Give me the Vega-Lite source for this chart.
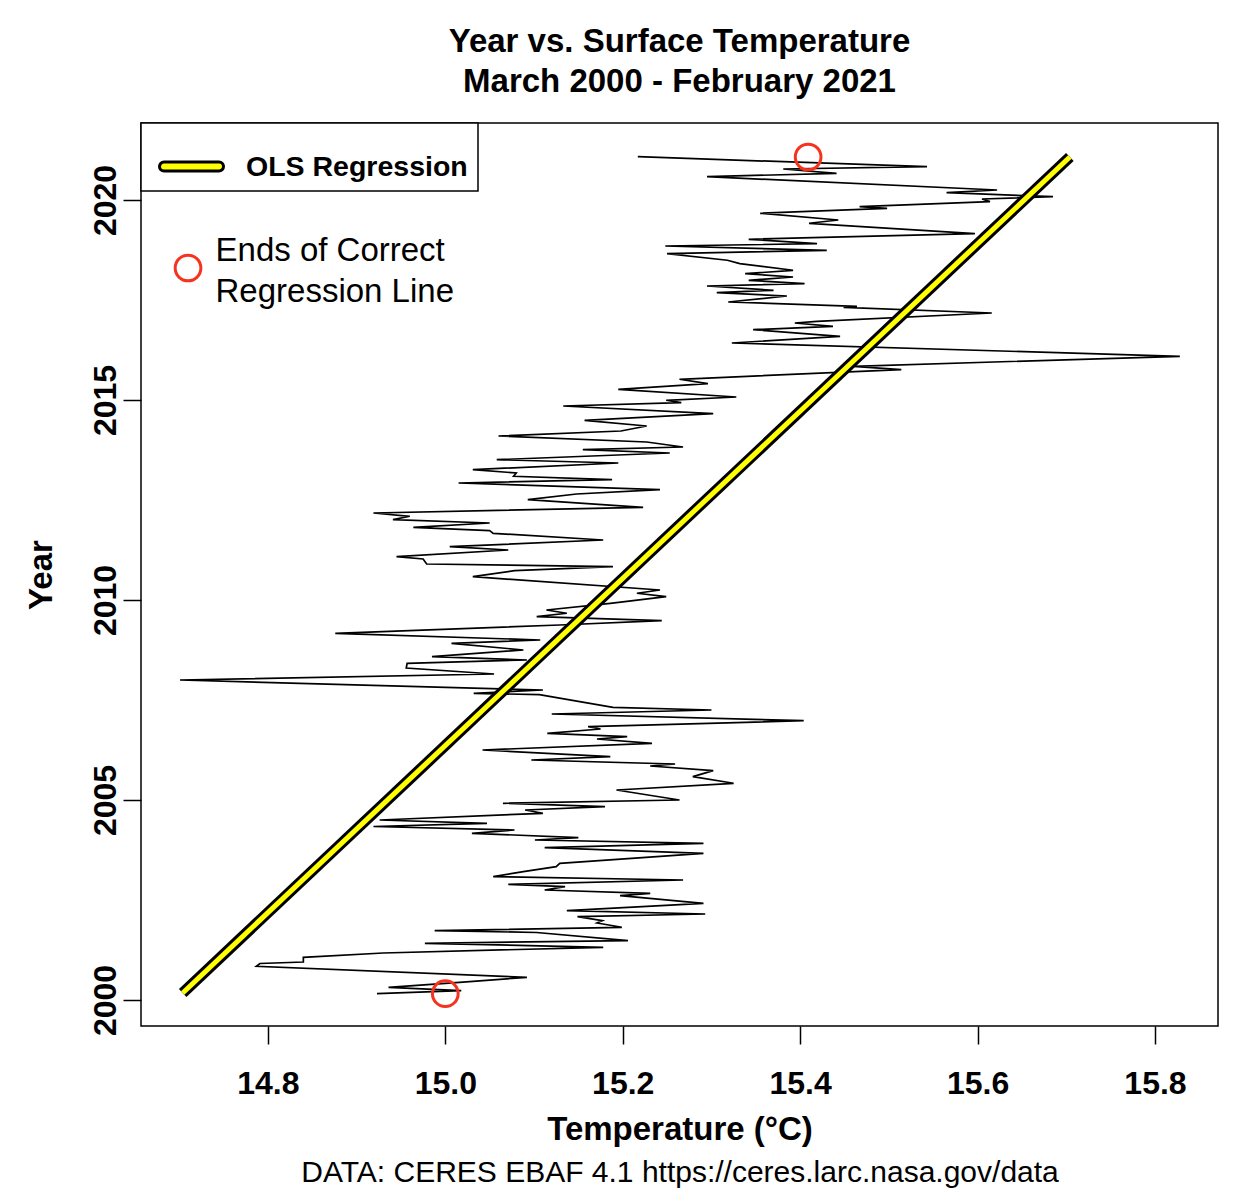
{
"$schema":"https://vega.github.io/schema/vega-lite/v6.json",
"width":1077,"height":903,
"autosize":{"type":"none"},
"padding":{"left":141,"top":123,"right":18,"bottom":169},
"background":"white",
"title":{"text":["Year vs. Surface Temperature","March 2000 - February 2021"],"font":"Liberation Sans","fontSize":33,"fontWeight":"bold","lineHeight":40,"anchor":"middle","baseline":"alphabetic","offset":-3,"color":"black"},
"config":{
 "view":{"stroke":"black","strokeWidth":1.5},
 "font":"Liberation Sans",
 "axis":{"grid":false,"domain":false,"tickColor":"black","tickWidth":1.5,"tickSize":18,"labelColor":"black","labelFont":"Liberation Sans","labelFontSize":32,"labelFontWeight":"bold","titleColor":"black","titleFont":"Liberation Sans","titleFontSize":33,"titleFontWeight":"bold"}
},
"datasets":{
 "series":[
{"year":2000.158,"temp":14.923},{"year":2000.233,"temp":15.018},{"year":2000.318,"temp":14.936},{"year":2000.443,"temp":15.016},{"year":2000.568,"temp":15.092},{"year":2000.843,"temp":14.787},{"year":2000.913,"temp":14.791},{"year":2000.95,"temp":14.84},{"year":2001.068,"temp":14.84},{"year":2001.175,"temp":14.93},{"year":2001.318,"temp":15.178},{"year":2001.418,"temp":14.977},{"year":2001.483,"temp":15.206},{"year":2001.688,"temp":15.103},{"year":2001.733,"temp":14.988},{"year":2001.818,"temp":15.199},{"year":2001.925,"temp":15.171},{"year":2001.983,"temp":15.177},{"year":2002.083,"temp":15.149},{"year":2002.15,"temp":15.293},{"year":2002.233,"temp":15.137},{"year":2002.415,"temp":15.291},{"year":2002.608,"temp":15.197},{"year":2002.668,"temp":15.231},{"year":2002.75,"temp":15.112},{"year":2002.833,"temp":15.135},{"year":2002.893,"temp":15.071},{"year":2003.0,"temp":15.268},{"year":2003.083,"temp":15.054},{"year":2003.208,"temp":15.088},{"year":2003.333,"temp":15.125},{"year":2003.418,"temp":15.129},{"year":2003.668,"temp":15.291},{"year":2003.808,"temp":15.112},{"year":2003.918,"temp":15.291},{"year":2004.0,"temp":15.101},{"year":2004.058,"temp":15.15},{"year":2004.168,"temp":15.03},{"year":2004.25,"temp":15.078},{"year":2004.338,"temp":14.919},{"year":2004.418,"temp":15.047},{"year":2004.5,"temp":14.926},{"year":2004.668,"temp":15.11},{"year":2004.75,"temp":15.09},{"year":2004.833,"temp":15.18},{"year":2004.918,"temp":15.065},{"year":2005.0,"temp":15.264},{"year":2005.25,"temp":15.193},{"year":2005.418,"temp":15.325},{"year":2005.583,"temp":15.279},{"year":2005.733,"temp":15.302},{"year":2005.85,"temp":15.231},{"year":2005.9,"temp":15.259},{"year":2006.0,"temp":15.097},{"year":2006.083,"temp":15.186},{"year":2006.25,"temp":15.042},{"year":2006.418,"temp":15.233},{"year":2006.525,"temp":15.171},{"year":2006.583,"temp":15.205},{"year":2006.668,"temp":15.115},{"year":2006.775,"temp":15.175},{"year":2006.833,"temp":15.161},{"year":2006.983,"temp":15.404},{"year":2007.15,"temp":15.12},{"year":2007.25,"temp":15.3},{"year":2007.318,"temp":15.189},{"year":2007.633,"temp":15.106},{"year":2007.668,"temp":15.032},{"year":2007.75,"temp":15.11},{"year":2008.0,"temp":14.701},{"year":2008.15,"temp":15.055},{"year":2008.3,"temp":14.956},{"year":2008.418,"temp":14.957},{"year":2008.5,"temp":15.092},{"year":2008.583,"temp":14.985},{"year":2008.75,"temp":15.088},{"year":2008.918,"temp":15.007},{"year":2009.0,"temp":15.107},{"year":2009.168,"temp":14.876},{"year":2009.375,"temp":15.129},{"year":2009.483,"temp":15.244},{"year":2009.583,"temp":15.103},{"year":2009.668,"temp":15.137},{"year":2009.75,"temp":15.114},{"year":2009.918,"temp":15.186},{"year":2010.083,"temp":15.249},{"year":2010.168,"temp":15.216},{"year":2010.25,"temp":15.242},{"year":2010.583,"temp":15.031},{"year":2010.733,"temp":15.078},{"year":2010.833,"temp":15.189},{"year":2010.9,"temp":14.979},{"year":2011.025,"temp":14.975},{"year":2011.083,"temp":14.945},{"year":2011.25,"temp":15.071},{"year":2011.333,"temp":15.005},{"year":2011.5,"temp":15.178},{"year":2011.667,"temp":15.054},{"year":2011.733,"temp":15.05},{"year":2011.818,"temp":14.964},{"year":2011.925,"temp":15.05},{"year":2012.008,"temp":14.941},{"year":2012.093,"temp":14.96},{"year":2012.175,"temp":14.919},{"year":2012.318,"temp":15.223},{"year":2012.508,"temp":15.093},{"year":2012.65,"temp":15.148},{"year":2012.758,"temp":15.242},{"year":2012.925,"temp":15.015},{"year":2013.008,"temp":15.188},{"year":2013.093,"temp":15.077},{"year":2013.175,"temp":15.08},{"year":2013.258,"temp":15.031},{"year":2013.425,"temp":15.195},{"year":2013.508,"temp":15.058},{"year":2013.675,"temp":15.253},{"year":2013.758,"temp":15.155},{"year":2013.825,"temp":15.268},{"year":2013.95,"temp":15.227},{"year":2014.1,"temp":15.06},{"year":2014.225,"temp":15.198},{"year":2014.35,"temp":15.227},{"year":2014.493,"temp":15.157},{"year":2014.658,"temp":15.302},{"year":2014.85,"temp":15.133},{"year":2014.933,"temp":15.266},{"year":2014.993,"temp":15.249},{"year":2015.075,"temp":15.328},{"year":2015.268,"temp":15.195},{"year":2015.408,"temp":15.296},{"year":2015.518,"temp":15.264},{"year":2015.758,"temp":15.514},{"year":2015.843,"temp":15.46},{"year":2016.093,"temp":15.828},{"year":2016.425,"temp":15.323},{"year":2016.593,"temp":15.445},{"year":2016.758,"temp":15.347},{"year":2016.843,"temp":15.437},{"year":2016.925,"temp":15.394},{"year":2016.968,"temp":15.419},{"year":2017.175,"temp":15.616},{"year":2017.318,"temp":15.449},{"year":2017.343,"temp":15.464},{"year":2017.45,"temp":15.319},{"year":2017.6,"temp":15.385},{"year":2017.683,"temp":15.306},{"year":2017.743,"temp":15.37},{"year":2017.85,"temp":15.295},{"year":2017.908,"temp":15.405},{"year":2017.993,"temp":15.342},{"year":2018.075,"temp":15.392},{"year":2018.158,"temp":15.338},{"year":2018.243,"temp":15.392},{"year":2018.408,"temp":15.332},{"year":2018.493,"temp":15.318},{"year":2018.658,"temp":15.25},{"year":2018.743,"temp":15.43},{"year":2018.85,"temp":15.248},{"year":2018.908,"temp":15.419},{"year":2019.018,"temp":15.342},{"year":2019.158,"temp":15.597},{"year":2019.418,"temp":15.41},{"year":2019.5,"temp":15.443},{"year":2019.668,"temp":15.355},{"year":2019.793,"temp":15.498},{"year":2019.833,"temp":15.467},{"year":2019.958,"temp":15.614},{"year":2020.025,"temp":15.605},{"year":2020.083,"temp":15.685},{"year":2020.183,"temp":15.565},{"year":2020.25,"temp":15.622},{"year":2020.583,"temp":15.295},{"year":2020.668,"temp":15.441},{"year":2020.775,"temp":15.381},{"year":2020.833,"temp":15.543},{"year":2021.083,"temp":15.217}
 ],
 "ols":[{"model":"OLS Regression","temp":14.704,"year":2000.175},{"model":"OLS Regression","temp":15.704,"year":2021.075}],
 "ends":[{"temp":15.0,"year":2000.158},{"temp":15.409,"year":2021.075}],
 "key":[{"temp":14.71,"year":2018.3}],
 "notes":[{"temp":14.741,"year":2018.725,"label":"Ends of Correct"},{"temp":14.741,"year":2017.7,"label":"Regression Line"}]
},
"layer":[
 {"data":{"name":"series"},"mark":{"type":"line","color":"black","strokeWidth":1.7},
  "encoding":{
   "x":{"field":"temp","type":"quantitative","scale":{"domain":[14.657,15.871],"nice":false,"zero":false},
        "axis":{"orient":"bottom","values":[14.8,15,15.2,15.4,15.6,15.8],"format":".1f","title":"Temperature (°C)","labelPadding":24,"titlePadding":14,"labelFlush":false,"labelOverlap":false}},
   "y":{"field":"year","type":"quantitative","scale":{"domain":[1999.35,2021.925],"nice":false,"zero":false},
        "axis":{"orient":"left","values":[2000,2005,2010,2015,2020],"format":"d","title":"Year","labelAngle":270,"labelAlign":"center","labelBaseline":"alphabetic","labelPadding":8,"titlePadding":31,"labelFlush":false,"labelOverlap":false}},
   "order":{"field":"year","type":"quantitative"}}},
 {"data":{"name":"ols"},"mark":{"type":"line","strokeWidth":11},
  "encoding":{
   "x":{"field":"temp","type":"quantitative","scale":{"domain":[14.657,15.871],"nice":false,"zero":false},"axis":null},
   "y":{"field":"year","type":"quantitative","scale":{"domain":[1999.35,2021.925],"nice":false,"zero":false},"axis":null},
   "color":{"field":"model","type":"nominal","scale":{"range":["black"]},
     "legend":{"title":null,"orient":"top-left","offset":0,"padding":10,"strokeColor":"black","fillColor":"white","labelFont":"Liberation Sans","labelFontSize":28.5,"labelFontWeight":"bold","labelColor":"black","labelLimit":400,"labelOffset":21,"symbolOffset":7,
       "symbolType":"M -0.86 -0.14 L 0.86 -0.14 A 0.14 0.14 0 0 1 0.86 0.14 L -0.86 0.14 A 0.14 0.14 0 0 1 -0.86 -0.14 Z","symbolSize":4096,
       "symbolFillColor":"#ffff00","symbolStrokeColor":"black","symbolStrokeWidth":3,"symbolOpacity":1,
       "encode":{"symbols":{"update":{"fill":{"value":"#ffff00"},"stroke":{"value":"black"},"strokeWidth":{"value":3},"opacity":{"value":1}}},"legend":{"update":{"strokeWidth":{"value":1.5}}}}}}}},
 {"data":{"name":"ols"},"mark":{"type":"line","color":"#ffff00","strokeWidth":5},
  "encoding":{
   "x":{"field":"temp","type":"quantitative","scale":{"domain":[14.657,15.871],"nice":false,"zero":false},
        "axis":{"orient":"bottom","title":"DATA: CERES EBAF 4.1 https://ceres.larc.nasa.gov/data","labels":false,"ticks":false,"domain":false,"titleFontWeight":"normal","titleFontSize":30,"titlePadding":131}},
   "y":{"field":"year","type":"quantitative","scale":{"domain":[1999.35,2021.925],"nice":false,"zero":false},"axis":null}}},
 {"data":{"name":"ends"},"mark":{"type":"point","shape":"circle","filled":false,"color":"#f5331f","strokeWidth":3,"size":660,"opacity":1},
  "encoding":{
   "x":{"field":"temp","type":"quantitative","scale":{"domain":[14.657,15.871],"nice":false,"zero":false},"axis":null},
   "y":{"field":"year","type":"quantitative","scale":{"domain":[1999.35,2021.925],"nice":false,"zero":false},"axis":null}}},
 {"data":{"name":"key"},"mark":{"type":"point","shape":"circle","filled":false,"color":"#f5331f","strokeWidth":3,"size":660,"opacity":1},
  "encoding":{
   "x":{"field":"temp","type":"quantitative","scale":{"domain":[14.657,15.871],"nice":false,"zero":false},"axis":null},
   "y":{"field":"year","type":"quantitative","scale":{"domain":[1999.35,2021.925],"nice":false,"zero":false},"axis":null}}},
 {"data":{"name":"notes"},"mark":{"type":"text","align":"left","baseline":"middle","fontSize":33,"font":"Liberation Sans","color":"black"},
  "encoding":{
   "x":{"field":"temp","type":"quantitative","scale":{"domain":[14.657,15.871],"nice":false,"zero":false},"axis":null},
   "y":{"field":"year","type":"quantitative","scale":{"domain":[1999.35,2021.925],"nice":false,"zero":false},"axis":null},
   "text":{"field":"label"}}}
],
"resolve":{"axis":{"x":"independent","y":"independent"}}
}
